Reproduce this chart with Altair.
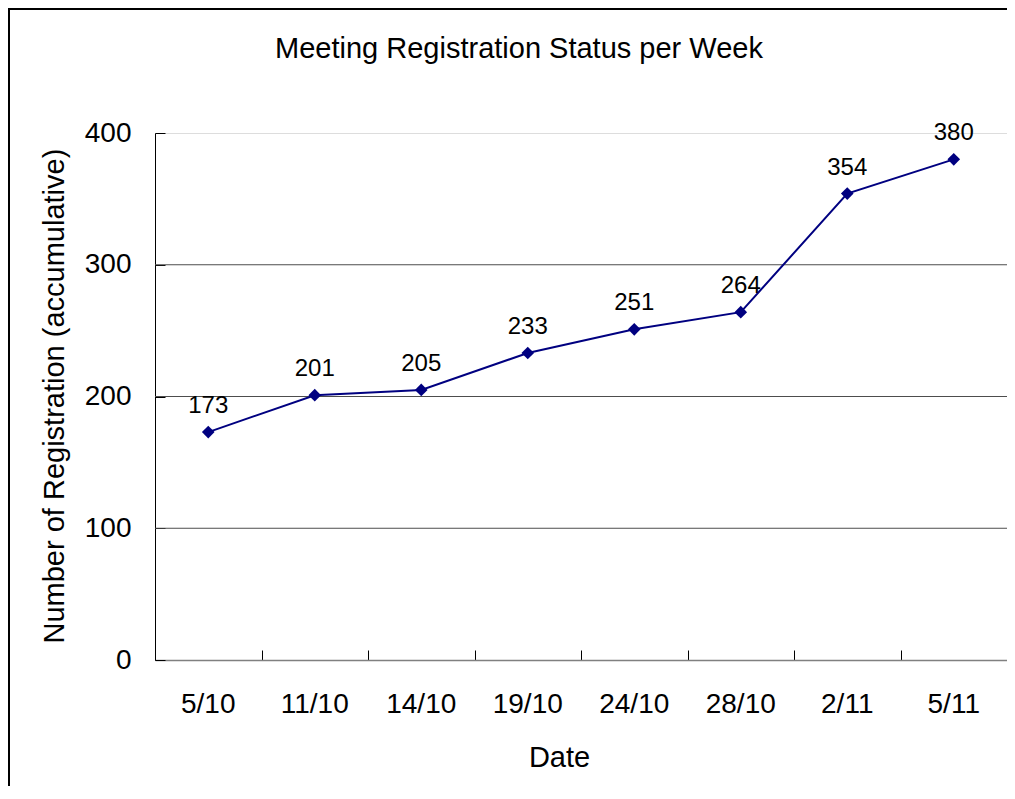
import altair as alt
import pandas as pd

# ---- data ----
dates = ["5/10", "11/10", "14/10", "19/10", "24/10", "28/10", "2/11", "5/11"]
registrations = [173, 201, 205, 233, 251, 264, 354, 380]
grid_values = [100, 200, 300]
y_tick_values = [0, 100, 200, 300, 400]

df = pd.DataFrame({"date": dates, "count": registrations})
grid_df = pd.DataFrame({"v": grid_values})

NAVY = "#000080"
FONT = "Liberation Sans"
W, H = 852, 527

xscale = alt.Scale(type="band", domain=dates, paddingInner=0, paddingOuter=0)
yscale = alt.Scale(domain=[0, 400], nice=False, zero=True)

x_main = alt.X(
    "date:N", sort=dates, scale=xscale, bandPosition=0.5, title="Date",
    axis=alt.Axis(
        orient="bottom", domain=True, domainColor="#808080", domainWidth=1.5,
        ticks=False, tickSize=0, grid=False,
        labelPadding=30, labelFontSize=28, labelFont=FONT, labelColor="black",
        labelAngle=0,
        titleFontSize=29, titleFont=FONT, titleFontWeight="normal",
        titleColor="black", titlePadding=25, titleX=404,
    ),
)
y_main = alt.Y(
    "count:Q", scale=yscale, title="Number of Registration (accumulative)",
    axis=alt.Axis(
        orient="left", values=y_tick_values, domain=True, domainColor="black",
        domainWidth=1, ticks=False, tickSize=0, grid=False,
        labelPadding=24, labelFontSize=28, labelFont=FONT, labelColor="black",
        titleFontSize=29, titleFont=FONT, titleFontWeight="normal",
        titleColor="black", titleAngle=270, titleAlign="left",
        titleBaseline="alphabetic", titleX=-92, titleY=510,
    ),
)

x_none = alt.X("date:N", sort=dates, scale=xscale, bandPosition=0.5, axis=None)
y_none = alt.Y("count:Q", scale=yscale, axis=None)

base = alt.Chart(df)

grid = alt.Chart(grid_df).mark_rule(color="#4d4d4d", strokeWidth=1).encode(
    y=alt.Y("v:Q", scale=yscale, axis=None)
)

# inward tick marks
tick_layer = base.mark_point(opacity=0).encode(
    x=alt.X("date:N", sort=dates, scale=xscale, bandPosition=0.5,
            axis=alt.Axis(orient="bottom", offset=-10, domain=False, labels=False,
                          ticks=True, tickSize=10, tickBand="extent",
                          tickColor="black", tickWidth=1, grid=False, title=None)),
    y=alt.Y("count:Q", scale=yscale,
            axis=alt.Axis(orient="left", offset=-10, values=y_tick_values,
                          domain=False, labels=False, ticks=True, tickSize=10,
                          tickColor="black", tickWidth=1, grid=False, title=None)),
)

line = base.mark_line(color=NAVY, strokeWidth=2).encode(x=x_main, y=y_main)
points = base.mark_point(shape="diamond", filled=True, size=160, color=NAVY,
                         opacity=1).encode(x=x_none, y=y_none)
labels = base.mark_text(dy=-19, baseline="alphabetic", fontSize=24, font=FONT,
                        color="black").encode(x=x_none, y=y_none,
                                              text=alt.Text("count:Q"))

frame_src = alt.Data(values=[{"k": 1}])
frame_top = alt.Chart(frame_src).mark_rule(color="black", strokeWidth=2).encode(
    x=alt.value(-147), x2=alt.value(W + 20), y=alt.value(-124))
frame_left = alt.Chart(frame_src).mark_rule(color="black", strokeWidth=2).encode(
    x=alt.value(-146), y=alt.value(-125), y2=alt.value(H + 200))

chart = alt.layer(
    frame_top, frame_left, grid, tick_layer, line, points, labels
).resolve_axis(x="independent", y="independent").properties(
    width=W, height=H,
    autosize=alt.AutoSizeParams(type="none"),
    padding={"left": 147, "top": 125, "right": 0, "bottom": 126},
    title=alt.TitleParams(
        "Meeting Registration Status per Week", fontSize=29, font=FONT,
        fontWeight="normal", color="black", anchor="middle", dx=-62,
        offset=0, dy=80, baseline="alphabetic",
    ),
).configure_view(stroke=None).configure(background="white")

chart.save("out.html", embed_options={"renderer": "svg", "actions": False})
